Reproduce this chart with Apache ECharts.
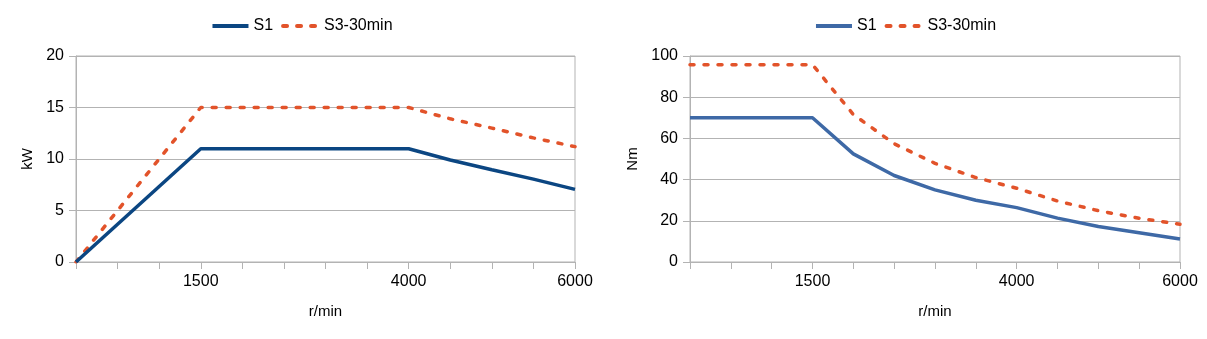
<!DOCTYPE html>
<html>
<head>
<meta charset="utf-8">
<script src="https://cdn.jsdelivr.net/npm/echarts@6/dist/echarts.min.js"></script>
<style>
  html, body { margin: 0; padding: 0; background: #ffffff; }
  #wrap { position: relative; width: 1207px; height: 339px; }
  #power { position: absolute; left: 0; top: 0; width: 603px; height: 339px; }
  #torque { position: absolute; left: 603px; top: 0; width: 604px; height: 339px; }
</style>
</head>
<body>
<div id="wrap">
  <div id="power"></div>
  <div id="torque"></div>
</div>
<script>
// Speed points (r/min) shared by both curves
const rpm = ['0', '500', '1000', '1500', '2000', '2500', '3000', '3500', '4000', '4500', '5000', '5500', '6000'];
// Speeds that get a printed label on the x axis
const tickLabels = ['1500', '4000', '6000'];

// Output power, kW
const powerS1 = [0, 3.67, 7.33, 11, 11, 11, 11, 11, 11, 9.9, 8.95, 8.05, 7.05];
const powerS3 = [0, 5, 10, 15, 15, 15, 15, 15, 15, 13.9, 13.0, 12.05, 11.2];

// Shaft torque, Nm
const torqueS1 = [70, 70, 70, 70, 52.5, 42, 35, 30, 26.4, 21.3, 17.2, 14.2, 11.2];
const torqueS3 = [95.8, 95.8, 95.8, 95.8, 71.6, 57.4, 47.9, 41, 35.8, 29.6, 24.9, 21.2, 18.3];

const FONT = '"Liberation Sans", Arial, sans-serif';
const GRID_GRAY = '#b3b3b3';
const ORANGE = '#e2532a';

function buildOption(cfg) {
  return {
    animation: false,
    textStyle: { fontFamily: FONT },
    legend: {
      left: 'center',
      top: 13,
      itemWidth: 36,
      itemHeight: 14,
      itemGap: 8,
      // line-only keys: hide the marker drawn on top of the line sample
      itemStyle: { opacity: 0 },
      lineStyle: { width: 4 },
      textStyle: { fontFamily: FONT, fontSize: 16, color: '#000' },
      data: ['S1', 'S3-30min']
    },
    grid: {
      left: cfg.gridLeft, right: cfg.gridRight, top: 56, bottom: 77,
      show: true, borderColor: GRID_GRAY, borderWidth: 1, backgroundColor: 'transparent'
    },
    xAxis: {
      type: 'category',
      data: rpm,
      boundaryGap: false,
      name: 'r/min',
      nameLocation: 'middle',
      nameGap: 42,
      nameTextStyle: { fontFamily: FONT, fontSize: 15, color: '#000' },
      axisLine: { lineStyle: { color: GRID_GRAY, width: 1 } },
      axisTick: { show: true, length: 7, interval: 0, lineStyle: { color: GRID_GRAY } },
      axisLabel: {
        interval: 0, margin: 12, fontFamily: FONT, fontSize: 16, color: '#000',
        formatter: function (v) { return tickLabels.indexOf(v) >= 0 ? v : ''; }
      },
      splitLine: { show: false }
    },
    yAxis: {
      type: 'value',
      min: 0, max: cfg.yMax, interval: cfg.yStep,
      name: cfg.yName,
      nameLocation: 'middle',
      nameGap: cfg.nameGap,
      nameRotate: 90,
      nameTextStyle: { fontFamily: FONT, fontSize: 15, color: '#000' },
      axisLine: { show: true, lineStyle: { color: GRID_GRAY, width: 1 } },
      axisTick: { show: true, length: 7, lineStyle: { color: GRID_GRAY } },
      axisLabel: { margin: 12, fontFamily: FONT, fontSize: 16, color: '#000' },
      splitLine: { show: true, lineStyle: { color: GRID_GRAY, width: 1 } }
    },
    series: [
      {
        name: 'S1', type: 'line', data: cfg.s1, symbol: 'none', z: 3,
        lineStyle: { color: cfg.s1Color, width: 3.5 },
        itemStyle: { color: cfg.s1Color }
      },
      {
        name: 'S3-30min', type: 'line', data: cfg.s3, symbol: 'none', z: 2,
        lineStyle: { color: ORANGE, width: 3.5, type: [4, 10], cap: 'round' },
        itemStyle: { color: ORANGE }
      }
    ]
  };
}

const powerChart = echarts.init(document.getElementById('power'), null, { renderer: 'canvas' });
powerChart.setOption(buildOption({
  gridLeft: 76, gridRight: 28, yMax: 20, yStep: 5, yName: 'kW', nameGap: 35,
  s1: powerS1, s3: powerS3, s1Color: '#0b4682'
}));

const torqueChart = echarts.init(document.getElementById('torque'), null, { renderer: 'canvas' });
torqueChart.setOption(buildOption({
  gridLeft: 87, gridRight: 27, yMax: 100, yStep: 20, yName: 'Nm', nameGap: 44,
  s1: torqueS1, s3: torqueS3, s1Color: '#3e69a6'
}));
</script>
</body>
</html>
